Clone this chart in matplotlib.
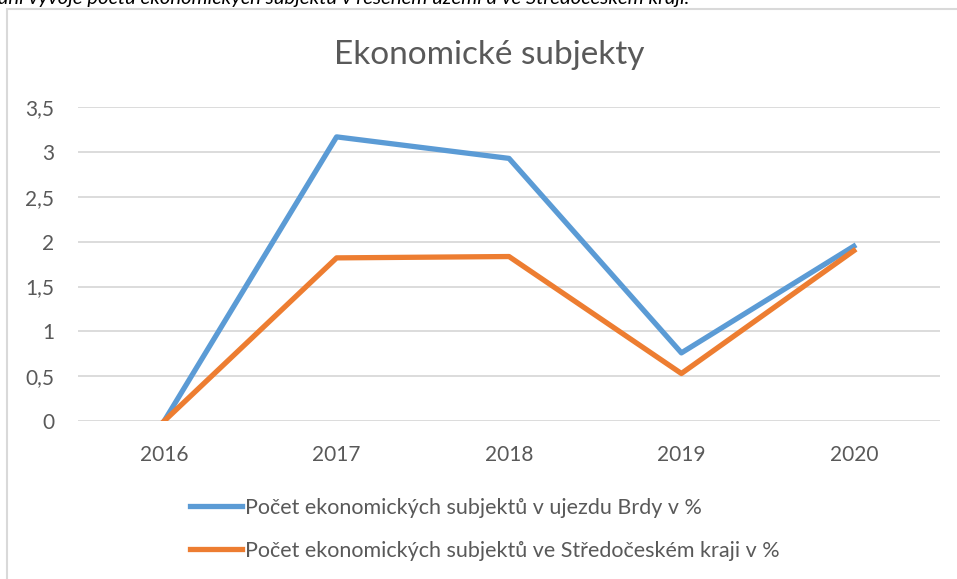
import matplotlib.pyplot as plt
from matplotlib.patches import Rectangle

roky = ['2016', '2017', '2018', '2019', '2020']
brdy = [0.0, 3.17, 2.93, 0.76, 1.95]
kraj = [0.0, 1.82, 1.835, 0.53, 1.90]
y_ticks = [0, 0.5, 1, 1.5, 2, 2.5, 3, 3.5]
y_labels = ['0', '0,5', '1', '1,5', '2', '2,5', '3', '3,5']

nazev = 'Ekonomické subjekty'
popisek_brdy = 'Počet ekonomických subjektů v ujezdu Brdy v %'
popisek_kraj = 'Počet ekonomických subjektů ve Středočeském kraji v %'
titulek = 'ání vývoje počtu ekonomických subjektů v řešeném území a ve Středočeském kraji.'

plt.rcParams['font.family'] = ['Lato', 'DejaVu Sans']

W, H = 957, 579
fig = plt.figure(figsize=(W / 100, H / 100), dpi=100)

# ramecek grafu (jen levy a horni okraj je videt)
fig.patches.append(Rectangle((7 / W, -0.1), 1.2, 1 - 9 / H + 0.1, transform=fig.transFigure,
                             fill=False, edgecolor='#d9d9d9', linewidth=1.5))

# orezany popisek nad grafem
fig.text(-2 / W, 1 - 4 / H, titulek, fontsize=14.6, style='italic', color='black',
         ha='left', va='baseline')

ax = fig.add_axes([78 / W, 1 - 421 / H, (940 - 78) / W, (421 - 107.3) / H])
x = range(len(roky))
ax.plot(x, brdy, color='#5B9BD5', linewidth=3.8, label=popisek_brdy, zorder=3)
ax.plot(x, kraj, color='#ED7D31', linewidth=3.8, label=popisek_kraj, zorder=3)

ax.set_xlim(-0.5, len(roky) - 0.5)
ax.set_ylim(0, 3.5)
ax.set_xticks(list(x))
ax.set_xticklabels(roky)
ax.set_yticks(y_ticks)
ax.set_yticklabels(y_labels)
ax.tick_params(axis='both', length=0, labelsize=15, labelcolor='#595959')
ax.tick_params(axis='y', pad=17)
ax.tick_params(axis='x', pad=17)
ax.grid(axis='y', color='#d9d9d9', linewidth=1.3)
ax.set_axisbelow(True)
for s in ax.spines.values():
    s.set_visible(False)

fig.text(489 / W, 1 - 55 / H, nazev, fontsize=24, color='#595959', ha='center', va='center')

ax.legend(loc='upper left', bbox_to_anchor=(190 / W, 1 - 498 / H), bbox_transform=fig.transFigure,
          frameon=False, fontsize=15.5, labelcolor='#595959', handlelength=2.4,
          handletextpad=0.15, labelspacing=1.05, borderpad=0, borderaxespad=0)

fig.savefig('out.png', dpi=100)
